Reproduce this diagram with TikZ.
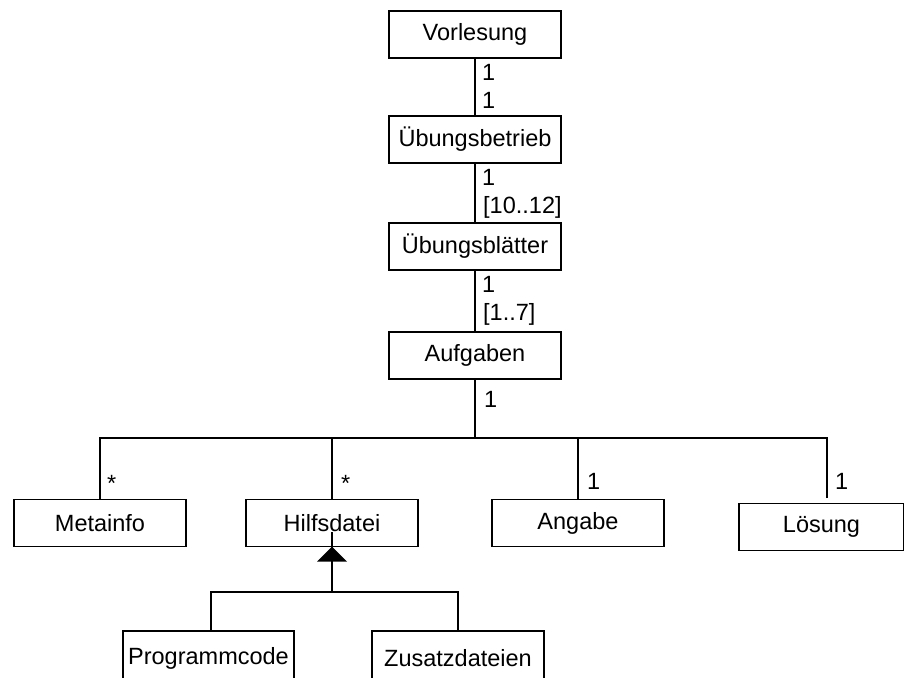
\documentclass[tikz,border=0pt]{standalone}
\usepackage{fontspec}
\setmainfont{Liberation Sans}
\begin{document}
\begin{tikzpicture}[x=1pt,y=-1pt,
  cls/.style={draw,line width=1.3pt,minimum width=172pt,minimum height=47pt,inner sep=2pt,font=\fontsize{23.5}{27}\selectfont},
  lbl/.style={anchor=base west,inner sep=0pt,font=\fontsize{23.5}{27}\selectfont},
  conn/.style={line width=1.3pt}]
\useasboundingbox (0,0) rectangle (904,677);
% classes
\node[cls] (vorl) at (475,34.5) {Vorlesung};
\node[cls] (uebb) at (475,139.5) {Übungsbetrieb};
\node[cls] (uebl) at (475,246.5) {Übungsblätter};
\node[cls] (aufg) at (475,355.5) {Aufgaben};
\node[cls] (meta) at (100,523) {Metainfo};
\node[cls] (hilf) at (332,523) {Hilfsdatei};
\node[cls] (anga) at (578,523) {Angabe};
\node[cls,minimum width=165pt] (loes) at (821.5,527) {Lösung};
\node[cls,minimum width=171pt,minimum height=54pt] (prog) at (208.5,658) {Programmcode};
\node[cls,minimum height=54pt] (zusa) at (458,658) {Zusatzdateien};
% coordinates
\coordinate (bus) at (475,438);
\coordinate (lend) at (827,498);
\coordinate (gen) at (332,592);
% connectors
\draw[conn] (vorl) -- (uebb);
\draw[conn] (uebb) -- (uebl);
\draw[conn] (uebl) -- (aufg);
\draw[conn] (aufg.south) -- (bus);
\draw[conn] (meta.north) |- (bus);
\draw[conn] (hilf.north) |- (bus);
\draw[conn] (anga.north) |- (bus);
\draw[conn] (lend) |- (bus);
\draw[conn] (gen) -- ([yshift=15pt]hilf.south);
\fill ([yshift=0.5pt]hilf.south) -- ++(-15,15) -- ++(30,0) -- cycle;
\draw[conn] ([xshift=2.5pt]prog.north) |- (gen);
\draw[conn] (zusa.north) |- (gen);
% multiplicities
\node[lbl] (m1) at (482,80) {1};
\node[lbl] (m2) at (482,108) {1};
\node[lbl] (m3) at (482,185) {1};
\node[lbl] (m4) at (483,213) {[10..12]};
\node[lbl] (m5) at (482,292) {1};
\node[lbl] (m6) at (483,320) {[1..7]};
\node[lbl] (m7) at (484,407) {1};
\node[lbl] (m8) at (107,491) {*};
\node[lbl] (m9) at (341,491) {*};
\node[lbl] (m10) at (587,489) {1};
\node[lbl] (m11) at (835,489) {1};
\end{tikzpicture}
\end{document}
